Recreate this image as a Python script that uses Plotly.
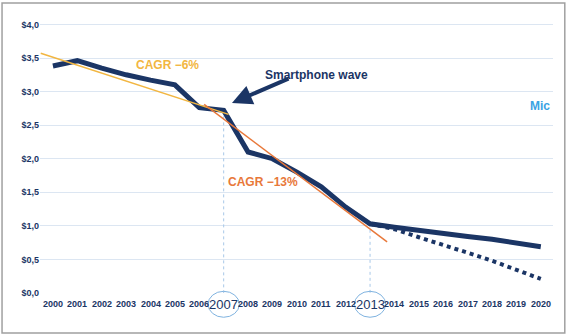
import plotly.graph_objects as go

# Average selling price by year ($)
years = list(range(2000, 2021))
price = [3.38, 3.46, 3.35, 3.25, 3.17, 3.10, 2.76, 2.72, 2.10, 2.00, 1.80, 1.58,
         1.28, 1.03, 0.98, 0.93, 0.88, 0.84, 0.80, 0.75, 0.69]
# Alternative (steeper) outlook after 2013
alt_years = list(range(2013, 2021))
alt_price = [1.03, 0.95, 0.83, 0.72, 0.60, 0.48, 0.34, 0.21]

# CAGR trend lines (endpoints)
trend6_x = [1999.5, 2007.2]
trend6_y = [3.57, 2.66]
trend13_x = [2006.2, 2013.7]
trend13_y = [2.81, 0.76]

y_ticks = [0.0, 0.5, 1.0, 1.5, 2.0, 2.5, 3.0, 3.5, 4.0]
y_labels = ["$0,0", "$0,5", "$1,0", "$1,5", "$2,0", "$2,5", "$3,0", "$3,5", "$4,0"]
highlight_years = [2007, 2013]

NAVY = "#1B3565"
YELLOW = "#F2B641"
ORANGE = "#E8783A"
GRID = "#DCE6F2"
MARK = "#A8C8E8"

fig = go.Figure()

# vertical markers for the highlighted years
for yr in highlight_years:
    v = price[years.index(yr)]
    fig.add_trace(go.Scatter(x=[yr, yr], y=[v, 0], mode="lines",
                             line=dict(color=MARK, width=1, dash="dot"),
                             hoverinfo="skip", showlegend=False))

fig.add_trace(go.Scatter(x=alt_years, y=alt_price, mode="lines",
                         line=dict(color=NAVY, width=4, dash="4px,4px"),
                         showlegend=False))
fig.add_trace(go.Scatter(x=years, y=price, mode="lines",
                         line=dict(color=NAVY, width=5), showlegend=False))
fig.add_trace(go.Scatter(x=trend6_x, y=trend6_y, mode="lines",
                         line=dict(color=YELLOW, width=1.5), showlegend=False))
fig.add_trace(go.Scatter(x=trend13_x, y=trend13_y, mode="lines",
                         line=dict(color=ORANGE, width=1.5), showlegend=False))

annotations = []
for yr in years:
    big = yr in highlight_years
    annotations.append(dict(
        x=yr, y=-0.04, xref="x", yref="paper", text=str(yr) if big else f"<b>{yr}</b>",
        showarrow=False, yanchor="middle",
        font=dict(family="Liberation Sans, Arial", size=13 if big else 9, color=NAVY)))

annotations += [
    dict(x=2004.7, y=3.39, xref="x", yref="y", text="<b>CAGR \u22126%</b>", showarrow=False,
         font=dict(family="Liberation Sans, Arial", size=12, color=YELLOW)),
    dict(x=2008.6, y=1.65, xref="x", yref="y", text="<b>CAGR \u221213%</b>", showarrow=False,
         font=dict(family="Liberation Sans, Arial", size=12, color=ORANGE)),
    dict(x=2010.8, y=3.25, xref="x", yref="y", text="<b>Smartphone wave</b>", showarrow=False,
         font=dict(family="Liberation Sans, Arial", size=12, color=NAVY)),
    dict(x=2019.95, y=2.78, xref="x", yref="y", text="<b>Mic</b>", showarrow=False,
         font=dict(family="Liberation Sans, Arial", size=12, color="#3AA3E3")),
    dict(x=2007.34, y=2.83, xref="x", yref="y", text="", showarrow=True,
         ax=58, ay=-25, arrowhead=2, arrowsize=1, arrowwidth=4, arrowcolor=NAVY),
]

shapes = [
    # outer frame
    dict(type="rect", xref="paper", yref="paper", x0=-0.074, x1=1.023, y0=-0.142, y1=1.028,
         line=dict(color="#A0A0A0", width=1.5)),
]
for yr in highlight_years:
    shapes.append(dict(type="circle", xref="x", yref="paper", x0=yr - 0.64, x1=yr + 0.64,
                       y0=-0.086, y1=0.006, line=dict(color="#7FB3E0", width=1)))

fig.update_layout(
    width=569, height=336,
    margin=dict(l=40, r=16, t=11, b=43),
    paper_bgcolor="white", plot_bgcolor="white",
    annotations=annotations, shapes=shapes,
    xaxis=dict(range=[1999.47, 2020.5], showgrid=False, zeroline=False,
               showticklabels=False, showline=False),
    yaxis=dict(range=[0, 4.2], tickvals=y_ticks, ticktext=[f"<b>{t}</b>" for t in y_labels],
               tickfont=dict(family="Liberation Sans, Arial", size=9, color=NAVY),
               showgrid=True, gridcolor=GRID, gridwidth=1,
               zeroline=True, zerolinecolor="white", showline=False, ticks=""),
)

fig.write_html("out.html")
